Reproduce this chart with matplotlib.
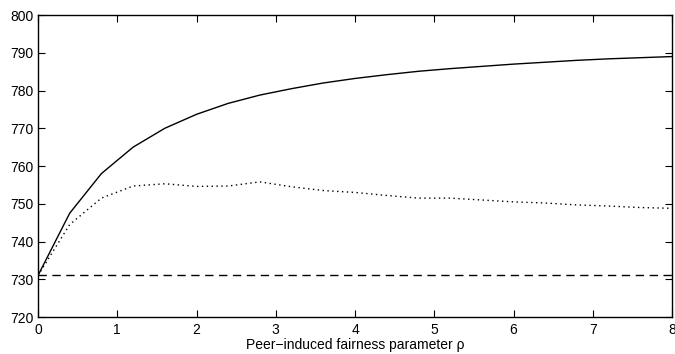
import matplotlib
matplotlib.use("Agg")
import matplotlib.pyplot as plt

rho = [0.0, 0.4, 0.8, 1.2, 1.6, 2.0, 2.4, 2.8, 3.2, 3.6, 4.0, 4.4, 4.8, 5.2, 5.6, 6.0, 6.4, 6.8, 7.2, 7.6, 8.0]
solid_vals = [731, 747.5, 758, 765, 770, 773.7, 776.6, 778.8, 780.5, 782, 783.2, 784.2, 785.1,
              785.8, 786.4, 787, 787.5, 788, 788.4, 788.7, 789]
dotted_vals = [731, 744.5, 751.5, 754.7, 755.3, 754.6, 754.7, 755.8, 754.5, 753.5, 753, 752.2,
               751.5, 751.5, 751, 750.5, 750.2, 749.7, 749.4, 749, 748.8]
baseline = 731
xticks = [0, 1, 2, 3, 4, 5, 6, 7, 8]
yticks = [720, 730, 740, 750, 760, 770, 780, 790, 800]

plt.rcParams['font.family'] = ['Liberation Sans', 'DejaVu Sans']
fig = plt.figure(figsize=(6.75, 3.54), dpi=100)
ax = fig.add_axes([0.0563, 0.1045, 0.9393, 0.853])
ax.plot(rho, solid_vals, color='black', lw=1.0, linestyle='-')
ax.plot(rho, dotted_vals, color='black', lw=1.0, linestyle=(0, (1, 2.5)))
ax.axhline(baseline, color='black', lw=1.0, linestyle=(0, (6, 4)))
ax.set_xlim(0, 8)
ax.set_ylim(720, 800)
ax.set_xticks(xticks)
ax.set_yticks(yticks)
ax.tick_params(direction='in', top=True, right=True, labelsize=10, length=5)
ax.tick_params(axis='x', pad=4.5)
ax.tick_params(axis='y', pad=3)
for s in ax.spines.values():
    s.set_linewidth(1.0)
ax.set_xlabel('Peer\u2212induced fairness parameter \u03c1', fontsize=10, labelpad=0.5)
fig.savefig('out.png', dpi=100)
